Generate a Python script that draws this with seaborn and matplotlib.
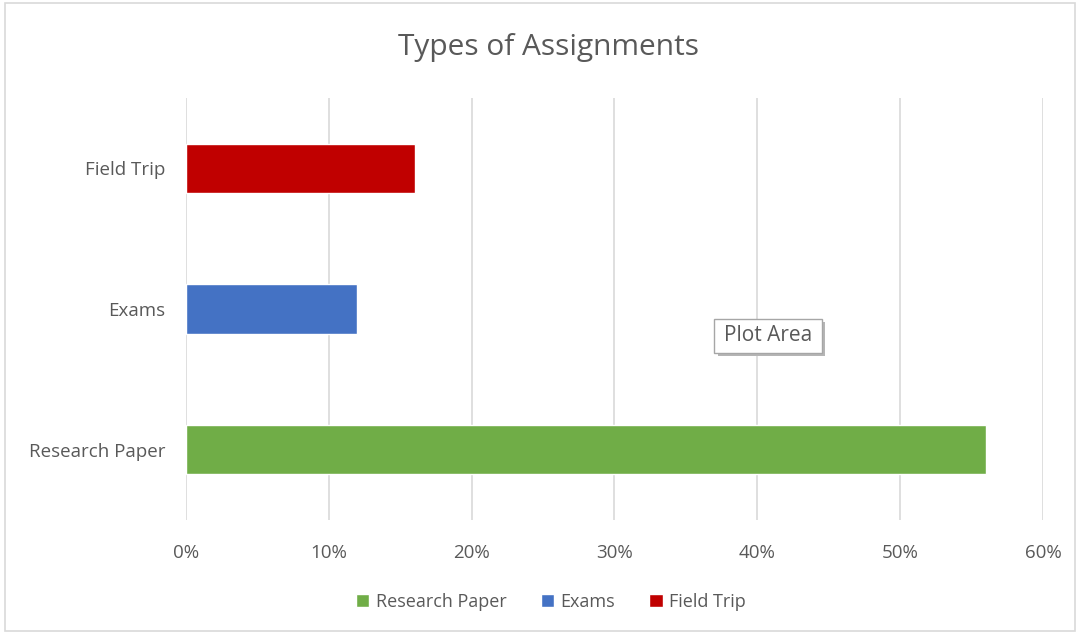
import pandas as pd
import numpy as np
import matplotlib
matplotlib.use('Agg')
import matplotlib.pyplot as plt
from matplotlib.patches import Rectangle
from matplotlib.ticker import PercentFormatter
import seaborn as sns

# chart data
categories = ['Research Paper', 'Exams', 'Field Trip']
shares = [0.56, 0.12, 0.16]
bar_colors = ['#70AD47', '#4472C4', '#C00000']
x_ticks = [0, 0.1, 0.2, 0.3, 0.4, 0.5, 0.6]

df = pd.DataFrame({'Assignment': categories, 'Share': shares})

sns.set_theme(style='white')
plt.rcParams['font.family'] = ['Open Sans', 'DejaVu Sans']
text_gray = '#595959'

fig = plt.figure(figsize=(10.8, 6.34), dpi=100)
ax = fig.add_axes([0.1722, 0.1798, 0.7935, 0.6656])

# Field Trip on top, Research Paper at the bottom
sns.barplot(data=df, y='Assignment', x='Share', hue='Assignment',
            order=categories[::-1], hue_order=categories,
            palette=bar_colors, dodge=False, width=0.35, saturation=1,
            legend=True, ax=ax)

ax.set_xlim(0, 0.6)
ax.set_xticks(x_ticks)
ax.xaxis.set_major_formatter(PercentFormatter(1.0, decimals=0))
ax.set_xlabel('')
ax.set_ylabel('')
ax.grid(axis='x', color='#D9D9D9', linewidth=1.2)
ax.set_axisbelow(True)
for s in ax.spines.values():
    s.set_visible(False)
ax.tick_params(axis='both', length=0, colors=text_gray, labelsize=13.5)
ax.tick_params(axis='x', pad=17)
ax.tick_params(axis='y', pad=15)

fig.suptitle('Types of Assignments', x=0.508, y=0.948, fontsize=21.5,
             color=text_gray)

handles, labels = ax.get_legend_handles_labels()
ax.legend_.remove()
fig.legend(handles, labels, loc='center', bbox_to_anchor=(0.51, 0.051),
           ncol=3, frameon=False, fontsize=13, labelcolor=text_gray,
           handlelength=0.75, handleheight=0.75, handletextpad=0.35,
           columnspacing=1.9)

# "Plot Area" tooltip with a small drop shadow (drawn in data units)
ax.add_patch(Rectangle((0.3722, 1.095), 0.0755, 0.24, fc='#B5B5B5', ec='none',
                       zorder=4, clip_on=False))
ax.add_patch(Rectangle((0.3697, 1.07), 0.0755, 0.24, fc='white', ec='#A6A6A6',
                       lw=1, zorder=5, clip_on=False))
ax.text(0.4075, 1.19, 'Plot Area', color=text_gray, fontsize=15,
        ha='center', va='center', zorder=6)

# light frame around the whole chart
fig.patches.append(Rectangle((0.005, 0.005), 0.99, 0.99, transform=fig.transFigure,
                             fill=False, ec='#D9D9D9', lw=1.2))

fig.savefig('out.png', dpi=100)
